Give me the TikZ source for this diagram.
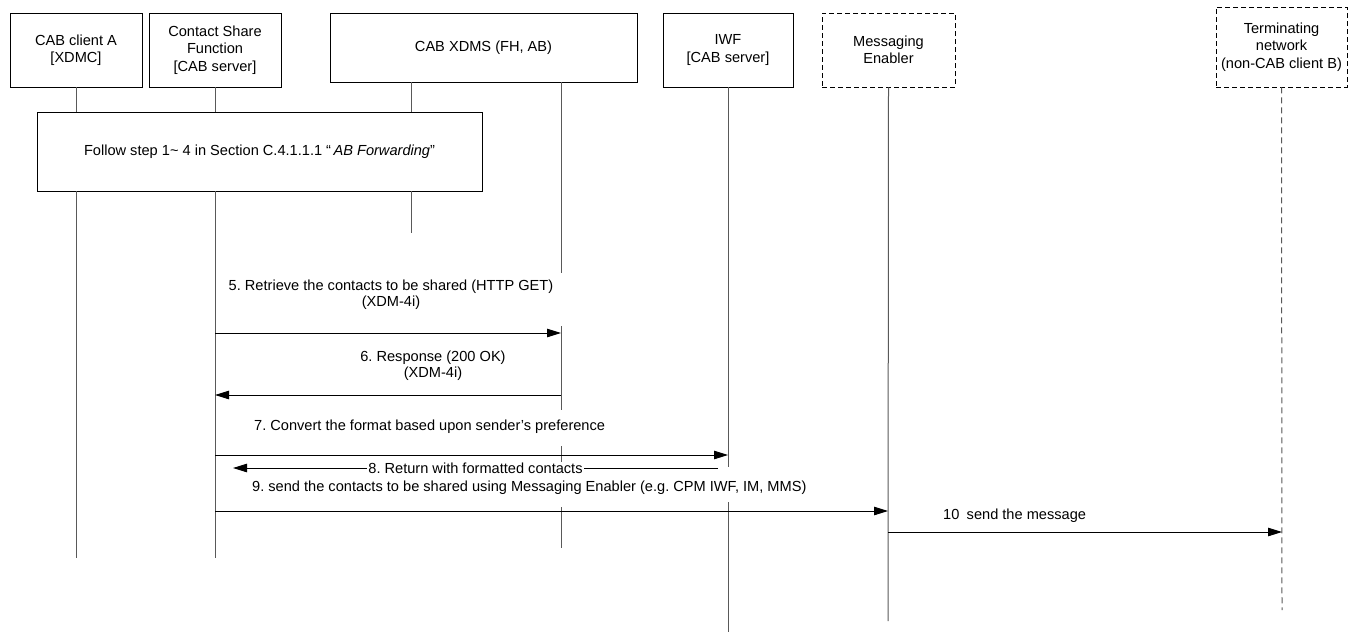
\documentclass[tikz,border=0pt]{standalone}
\usepackage{fontspec}
\setmainfont{Liberation Sans}
\usetikzlibrary{arrows.meta}
\frenchspacing
\tikzset{
  ent/.style={draw, line width=0.9pt, align=center, inner sep=0pt,
    font=\fontsize{14.6}{17.5}\selectfont},
  entdash/.style={ent, dash pattern=on 5pt off 3pt},
  life/.style={draw=black!65, line width=1pt},
  lifedash/.style={life, dash pattern=on 6pt off 4pt},
  msg/.style={draw, line width=0.9pt, -{Triangle[length=14pt,width=8.5pt]}},
  lbl/.style={inner sep=0pt, align=center, font=\fontsize{14.6}{16}\selectfont},
}
\begin{document}
\begin{tikzpicture}[x=1pt,y=-1pt]
	\useasboundingbox (0,0) rectangle (1353,632);
	% participants
	\node[ent, minimum width=132pt, minimum height=74pt] (cabA) at (76,50) {CAB client A\\{[XDMC]}};
	\node[ent, minimum width=132pt, minimum height=74pt] (csf) at (215,50) {Contact Share\\Function\\{[CAB server]}};
	\node[ent, minimum width=307pt, minimum height=69pt] (xdms) at (483.5,47.5) {CAB XDMS (FH, AB)};
	\node[ent, minimum width=130pt, minimum height=74pt] (iwf) at (728,50) {IWF\\{[CAB server]}};
	\node[entdash, minimum width=133pt, minimum height=74pt] (me) at (888.5,50) {Messaging\\Enabler};
	\node[entdash, minimum width=131pt, minimum height=80pt] (term) at (1281.5,47) {Terminating\\network\\(non-CAB client B)};
	\node[ent, minimum width=445pt, minimum height=79pt] (fwd) at (259.5,151.5)
		{Follow step 1\textasciitilde\ 4 in Section C.4.1.1.1 ``\,\textit{AB Forwarding}''};
	% lifeline ends
	\coordinate (aEnd) at (76,558);
	\coordinate (csfEnd) at (215,558);
	\coordinate (xlTop) at (411,82);
	\coordinate (xlEnd) at (411,233);
	\coordinate (xrTop) at (561,82);
	\coordinate (iwfEnd) at (728,632);
	\coordinate (meEnd) at (888,621);
	\coordinate (termEnd) at (1282,610);
	% lifelines
	\draw[life] (cabA.south) -- (cabA.south |- fwd.north);
	\draw[life] (cabA.south |- fwd.south) -- (aEnd);
	\draw[life] (csf.south) -- (csf.south |- fwd.north);
	\draw[life] (csf.south |- fwd.south) -- (csfEnd);
	\draw[life] (xlTop) -- (xlTop |- fwd.north);
	\draw[life] (xlTop |- fwd.south) -- (xlEnd);
	\draw[life] (xrTop) -- (561,273);
	\draw[life] (561,326) -- (561,410);
	\draw[life] (561,446) -- (561,462);
	\draw[life] (561,507) -- (561,548);
	\draw[life] (iwf.south) -- (728,467);
	\draw[life] (728,502) -- (iwfEnd);
	\draw[life] (me.south) -- (meEnd);
	\draw[lifedash] (term.south) -- (termEnd);
	% messages
	\coordinate (m5a) at (215,333);
	\coordinate (m5b) at (561,333);
	\coordinate (m6a) at (561,395);
	\coordinate (m6b) at (215,395);
	\coordinate (m7a) at (215,455);
	\coordinate (m7b) at (728,455);
	\coordinate (m8a) at (718,468);
	\coordinate (m8b) at (233,468);
	\coordinate (m9a) at (215,511);
	\coordinate (m9b) at (888,511);
	\coordinate (m10a) at (888,532);
	\coordinate (m10b) at (1282,532);
	\draw[msg] (m5a) -- (m5b);
	\node[lbl] (t5) at (391,295) {5. Retrieve the contacts to be shared (HTTP GET)\\(XDM-4i)};
	\draw[msg] (m6a) -- (m6b);
	\node[lbl] (t6) at (433,366) {6. Response (200 OK)\\(XDM-4i)};
	\draw[msg] (m7a) -- (m7b);
	\node[lbl, anchor=west] (t7) at (254,427) {7. Convert the format based upon sender's preference};
	\draw[msg] (m8a) -- node[lbl, fill=white, inner xsep=1pt] (t8) {8. Return with formatted contacts} (m8b);
	\draw[msg] (m9a) -- (m9b);
	\node[lbl, anchor=west] (t9) at (252,488) {9. send the contacts to be shared using Messaging Enabler (e.g. CPM IWF, IM, MMS)};
	\draw[msg] (m10a) -- (m10b);
	\node[lbl, anchor=west] (t10) at (943,516) {10\hspace{0.5em}send the message};
\end{tikzpicture}
\end{document}
